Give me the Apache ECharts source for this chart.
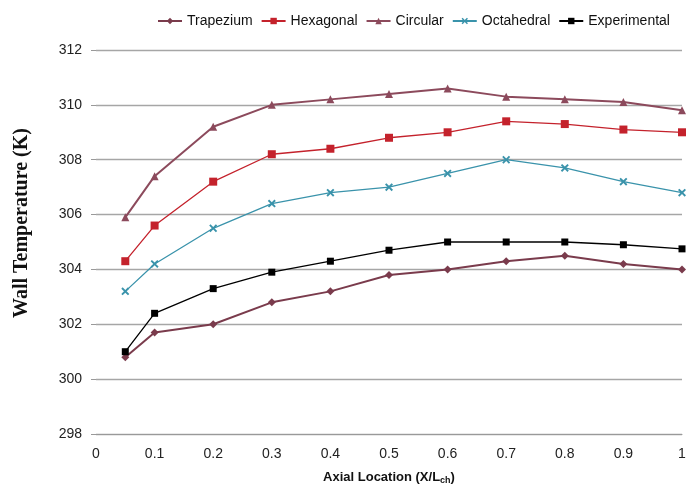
<!DOCTYPE html>
<html>
<head>
<meta charset="utf-8">
<script src="https://cdn.jsdelivr.net/npm/echarts@6/dist/echarts.min.js"></script>
<style>
  html, body { margin: 0; padding: 0; background: #fff; }
  #chart { width: 696px; height: 493px; }
</style>
</head>
<body>
<div id="chart"></div>
<script>
  // axial location X/Lch
  var xs = [0.05, 0.1, 0.2, 0.3, 0.4, 0.5, 0.6, 0.7, 0.8, 0.9, 1.0];
  // wall temperature (K)
  var trapezium = [300.8, 301.7, 302.0, 302.8, 303.2, 303.8, 304.0, 304.3, 304.5, 304.2, 304.0];
  var hexagonal = [304.3, 305.6, 307.2, 308.2, 308.4, 308.8, 309.0, 309.4, 309.3, 309.1, 309.0];
  var circular = [305.9, 307.4, 309.2, 310.0, 310.2, 310.4, 310.6, 310.3, 310.2, 310.1, 309.8];
  var octahedral = [303.2, 304.2, 305.5, 306.4, 306.8, 307.0, 307.5, 308.0, 307.7, 307.2, 306.8];
  var experimental = [301.0, 302.4, 303.3, 303.9, 304.3, 304.7, 305.0, 305.0, 305.0, 304.9, 304.75];

  function pairs(ys) {
    return xs.map(function (x, i) { return [x, ys[i]]; });
  }

  var starMark = "path://M0,0 L2,2 L4,0 L5,1 L3,3 L5,5 L4,6 L2,4 L0,6 L-1,5 L1,3 L-1,1 Z";

  var series = [
    { name: "Trapezium", data: trapezium, color: "#7a3b4c", symbol: "diamond", size: 8, width: 2 },
    { name: "Hexagonal", data: hexagonal, color: "#c4222c", symbol: "rect", size: 8, width: 1.3 },
    { name: "Circular", data: circular, color: "#8c4a5c", symbol: "triangle", size: 8, width: 2 },
    { name: "Octahedral", data: octahedral, color: "#3a93ab", symbol: starMark, size: 8, width: 1.3 },
    { name: "Experimental", data: experimental, color: "#000000", symbol: "rect", size: 7, width: 1.3 }
  ];

  var myChart = echarts.init(document.getElementById("chart"));
  myChart.setOption({
    animation: false,
    backgroundColor: "#ffffff",
    legend: {
      top: 9,
      left: 152,
      itemGap: 8,
      itemWidth: 24,
      itemHeight: 8,
      textStyle: { fontFamily: "Liberation Sans", fontSize: 14, color: "#111" },
      data: series.map(function (s) { return s.name; })
    },
    grid: { left: 96, right: 14, top: 50, bottom: 59 },
    xAxis: {
      type: "value",
      min: 0,
      max: 1,
      interval: 0.1,
      name: "{a|Axial Location (X/L}{s|ch}{a|)}",
      nameLocation: "middle",
      nameGap: 36,
      nameTextStyle: {
        rich: {
          a: { fontFamily: "Liberation Sans", fontWeight: "bold", fontSize: 13, color: "#111" },
          s: { fontFamily: "Liberation Sans", fontWeight: "bold", fontSize: 9, color: "#111", verticalAlign: "bottom", padding: [6, 0, 0, 0] }
        }
      },
      axisLine: { show: true, lineStyle: { color: "#999", width: 1 } },
      axisTick: { show: false },
      splitLine: { show: false },
      axisLabel: { fontFamily: "Liberation Sans", fontSize: 14, color: "#222", margin: 13 }
    },
    yAxis: {
      type: "value",
      min: 298,
      max: 312,
      interval: 2,
      name: "Wall Temperature (K)",
      nameLocation: "middle",
      nameGap: 64,
      nameTextStyle: {
        fontFamily: "Liberation Serif", fontWeight: "bold", fontSize: 20, color: "#111",
        padding: [0, 0, 0, 38]
      },
      axisLine: { show: false },
      axisTick: { show: true, length: 5, lineStyle: { color: "#999" } },
      splitLine: { show: true, lineStyle: { color: "#a6a6a6", width: 1.3 } },
      axisLabel: { fontFamily: "Liberation Sans", fontSize: 14, color: "#222", margin: 14 }
    },
    series: series.map(function (s) {
      return {
        name: s.name,
        type: "line",
        data: pairs(s.data),
        symbol: s.symbol,
        symbolSize: s.size,
        showSymbol: true,
        color: s.color,
        lineStyle: { color: s.color, width: s.width },
        itemStyle: { color: s.color }
      };
    })
  });
</script>
</body>
</html>
